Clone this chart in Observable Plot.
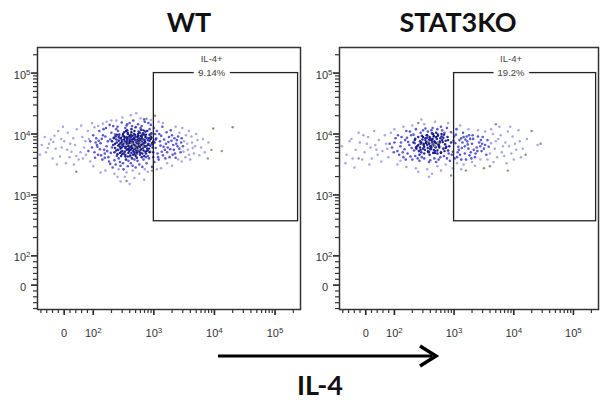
<!DOCTYPE html>
<html><head><meta charset="utf-8">
<script src="https://cdn.jsdelivr.net/npm/d3@7"></script>
<script src="https://cdn.jsdelivr.net/npm/@observablehq/plot@0.6"></script>
<style>
body{margin:0;background:#fff;}
#wrap{position:relative;width:605px;height:402px;overflow:hidden;background:#fff;}
#wrap svg{position:absolute;top:0;}
</style></head><body><div id="wrap"></div>
<script>
// ---- data (positions in log10 display units of the biexponential axes) ----
const panelTitles = ["WT", "STAT3KO"];
const gateNames = ["IL-4+", "IL-4+"];
const gatePercents = ["9.14%", "19.2%"];
const gateX = [1000, 240000];   // gate x range (raw values)
const gateY = [370, 100000];    // gate y range (raw values)
const gateLabelX = 9000;
const axisLabel = "IL-4";

const majorVals = [0, 100, 1e3, 1e4, 1e5];
const majorLabels = ["0", "10^2", "10^3", "10^4", "10^5"];
const minorVals = [-80, -60, -40, -20, 20, 40, 60, 80,
  200, 300, 400, 500, 600, 700, 800, 900,
  2000, 3000, 4000, 5000, 6000, 7000, 8000, 9000,
  20000, 30000, 40000, 50000, 60000, 70000, 80000, 90000, 200000];

const wtDark = [[2.62,3.88],[2.71,3.79],[2.55,3.95],[2.83,3.91],[2.48,3.72],[2.77,4.02],[2.91,3.84],[2.66,3.66],[2.39,3.86],[2.58,3.81],
[2.86,3.71],[2.74,3.97],[2.51,4.03],[2.69,3.90],[2.95,3.96],[2.44,3.79],[2.80,3.62],[2.63,4.08],[2.35,3.70],[2.89,4.05],
[2.57,3.63],[2.73,3.84],[2.98,3.78],[2.42,3.95],[2.67,3.75],[2.84,3.99],[2.52,3.88],[2.78,3.69],[2.61,3.98],[2.93,3.89],
[2.46,3.64],[2.70,4.11],[2.87,3.80],[2.33,3.82],[2.59,3.72],[2.76,3.93],[3.01,3.86],[2.49,3.97],[2.65,3.83],[2.82,3.77],
[2.54,3.58],[2.72,3.61],[2.38,3.91],[2.90,3.73],[2.60,3.92],[2.79,4.07],[2.45,3.85],[2.68,3.70],[2.96,4.01],[2.53,3.77],
[2.85,3.87],[2.64,3.60],[2.41,3.74],[2.75,3.80],[2.88,3.94],[2.56,4.06],[2.71,3.73],[2.99,3.70],[2.47,3.90],[2.81,3.83],
[2.36,3.77],[2.62,3.95],[2.77,3.66],[2.92,3.93],[2.50,3.68],[2.67,4.00],[2.84,3.64],[2.58,3.86],[2.73,3.89],[3.03,3.91],
[2.43,3.99],[2.69,3.81],[2.86,4.04],[2.55,3.74],[2.80,3.96],[2.63,3.69],[2.94,3.81],[2.40,3.67],[2.76,3.86],[2.52,3.94],
[2.89,3.76],[2.66,3.92],[2.31,3.88],[2.74,3.74],[2.97,3.85],[2.57,4.00],[2.83,3.85],[2.48,3.82],[2.70,3.96],[2.61,3.78],
[2.87,3.68],[2.44,3.93],[2.78,3.91],[2.53,3.66],[2.93,3.99],[2.65,3.87],[2.37,3.96],[2.82,4.01],[2.59,3.76],[2.72,3.68],
[2.90,3.90],[2.50,3.80],[2.68,3.94],[2.85,3.79],[2.56,3.90],[2.79,3.75],[2.64,3.84],[2.46,3.71],[2.75,4.04],[2.98,3.83]];

const wtCore = [[2.60,3.85],[2.67,3.93],[2.54,3.79],[2.73,3.77],[2.80,3.88],[2.47,3.87],[2.58,3.69],[2.69,3.99],[2.86,3.95],[2.41,3.81],
[2.76,3.71],[2.63,3.80],[2.51,3.91],[2.92,3.76],[2.70,3.64],[2.57,4.02],[2.83,4.06],[2.44,3.69],[2.66,3.87],[2.79,3.82],
[2.38,3.73],[2.55,3.84],[2.73,3.95],[2.88,3.72],[2.62,3.74],[2.49,4.00],[2.81,3.68],[2.68,4.05],[2.95,3.92],[2.52,3.71],
[2.64,3.91],[2.77,3.79],[2.45,3.76],[2.71,3.86],[2.59,3.96],[2.85,3.90],[2.34,3.94],[2.66,3.72],[2.74,4.00],[2.50,3.84],
[2.90,3.82],[2.61,3.65],[2.78,3.97],[2.42,3.89],[2.69,3.76],[2.56,3.93],[2.83,3.73],[2.63,4.03],[2.47,3.78],[2.75,3.84],
[2.99,3.88],[2.53,3.63],[2.72,3.70],[2.60,3.89],[2.87,3.99],[2.39,3.99],[2.67,3.83],[2.80,3.93],[2.48,3.67],[2.58,3.80],
[2.93,3.70],[2.65,3.97],[2.43,3.83],[2.76,3.89],[2.54,4.05],[2.70,3.79],[2.84,3.81],[2.57,3.75],[2.68,3.67],[2.96,3.94],
[2.36,3.84],[2.62,3.99],[2.78,3.74],[2.51,3.96],[2.73,3.91],[2.86,3.86],[2.46,3.94],[2.64,3.77],[2.81,3.99],[2.55,3.87]];

const wtMid = [[2.12,3.85],[2.25,3.62],[2.30,4.02],[2.18,3.74],[2.05,3.93],[2.40,4.12],[2.28,3.51],[3.10,3.88],[3.18,3.74],[3.05,4.05],
[3.25,3.95],[3.32,3.82],[3.15,3.65],[2.95,4.15],[2.60,4.18],[2.45,3.48],[2.70,3.45],[2.88,3.52],[2.20,3.96],[2.02,3.70],
[1.95,3.88],[2.35,3.57],[2.55,4.14],[2.80,4.13],[3.08,3.58],[3.22,3.70],[3.38,3.90],[3.42,3.76],[3.28,4.06],[2.15,3.58],
[2.10,4.05],[2.38,4.08],[2.62,3.52],[2.92,3.60],[3.00,4.10],[3.12,3.97],[2.22,3.80],[2.08,3.66],[1.98,3.78],[2.32,3.45],
[2.50,3.42],[2.76,3.50],[2.97,3.46],[3.20,3.84],[3.35,3.68],[3.45,3.86],[2.27,4.15],[2.66,4.22],[2.85,4.20],[3.03,3.77],
[2.14,3.92],[2.42,3.60],[2.58,3.56],[3.14,4.12],[3.30,3.98],[2.00,3.98],[2.19,3.68],[2.36,3.99],[2.90,3.64],[3.06,3.68],
[3.26,3.62],[3.40,3.96],[2.24,3.88],[2.06,3.82],[2.47,4.19],[2.74,4.16],[2.93,4.08],[3.17,3.91],[3.33,3.74],[3.48,3.80],
[2.11,3.75],[2.29,3.69],[2.44,3.54],[2.65,3.48],[2.83,3.58],[3.01,3.54],[3.23,3.78],[3.37,3.84],[2.17,4.08],[2.34,3.93],
[2.53,4.10],[2.78,4.10],[3.09,4.00],[3.19,3.60],[2.03,3.61],[2.26,3.55],[2.39,3.64],[2.61,3.63],[2.94,3.71],[3.11,3.81],
[3.29,3.89],[3.44,3.70],[2.09,3.89],[2.21,4.10],[2.49,3.52],[2.68,3.58],[2.87,3.62],[3.04,3.93],[3.21,4.03],[3.36,3.61],
[1.92,3.72],[2.13,3.65],[2.31,3.78],[2.57,3.47],[2.81,3.46],[3.07,3.62],[3.24,3.87],[3.39,3.80],[2.16,3.98],[2.41,4.05],
[2.64,4.13],[2.91,4.18],[3.13,3.71],[3.31,3.66],[2.04,3.86],[2.23,3.72],[2.37,3.50],[2.73,3.56],[2.99,3.62],[3.16,3.79],
[3.46,3.93],[2.19,3.61],[2.33,4.13],[2.56,4.16],[2.84,4.24],[3.02,4.00],[3.27,3.75],[2.07,3.79],[2.28,3.91],[3.34,3.93]];

const wtLight = [[1.15,3.82],[1.22,3.70],[1.30,3.91],[1.38,3.76],[1.45,3.63],[1.52,3.88],[1.58,4.02],[1.64,3.71],[1.70,3.82],[1.76,3.58],
[1.82,3.95],[1.88,3.66],[1.20,3.95],[1.33,3.60],[1.42,4.05],[1.55,3.52],[1.67,3.93],[1.73,4.08],[1.85,3.78],[1.91,4.05],
[1.27,3.84],[1.48,3.78],[1.61,3.62],[1.79,3.70],[1.95,3.55],[1.12,3.66],[1.36,3.97],[1.57,3.74],[1.68,3.50],[1.87,3.88],
[2.00,3.47],[2.08,4.13],[2.20,3.40],[2.35,3.35],[2.52,3.30],[2.68,3.28],[2.45,3.22],[2.60,3.18],[2.76,3.35],[2.90,3.38],
[2.30,4.22],[2.48,4.27],[2.62,4.31],[2.78,4.26],[2.95,4.23],[2.71,4.34],[2.40,3.30],[2.84,3.25],[2.55,3.37],[3.05,3.42],
[3.50,3.88],[3.56,3.74],[3.62,3.96],[3.68,3.80],[3.52,3.62],[3.58,4.05],[3.66,3.68],[3.72,3.90],[3.47,4.10],[3.55,3.84],
[3.78,3.78],[3.84,3.70],[3.90,3.86],[3.46,3.55],[3.60,3.58],[3.75,3.65],[3.53,3.98],[3.63,3.86],[3.70,4.00],[3.42,4.02],
[3.15,4.18],[3.22,3.52],[3.30,3.48],[3.36,4.12],[3.12,3.44],[1.50,4.12],[1.40,3.50],[1.98,4.18],[2.12,3.37],[1.80,4.14],
[1.62,3.84],[1.72,3.64],[1.93,3.92],[1.25,3.77],[1.47,3.92],[1.83,3.60],[2.02,4.11],[2.16,4.17],[3.40,3.58],[3.49,3.71],
[3.58,3.66],[3.64,3.77],[3.81,3.92],[2.65,3.40],[2.42,3.42],[2.85,3.42],[2.38,4.22],[3.08,4.20],[2.22,4.20],[1.34,3.87]];

const wtGray = [[2.72,3.82],[2.78,3.86],[2.68,3.78],[2.82,3.80],[2.75,3.75],[2.64,3.84],[4.30,4.11],[3.98,4.09],[3.89,3.60],
[4.12,3.72],[3.95,3.74],[2.97,3.40],[2.55,3.23],[1.72,3.38],[2.88,4.25],[3.02,4.30]];

const koDark = [[2.55,3.82],[2.62,3.90],[2.48,3.76],[2.70,3.85],[2.58,3.71],[2.66,3.96],[2.43,3.88],[2.75,3.78],[2.52,3.93],[2.80,3.90],
[2.60,3.80],[2.38,3.80],[2.68,3.72],[2.46,3.97],[2.73,3.99],[2.57,3.87],[2.85,3.83],[2.41,3.72],[2.64,3.84],[2.50,3.68],
[2.78,3.70],[2.35,3.92],[2.61,3.75],[2.89,3.95],[2.54,3.98],[2.71,3.92],[2.44,3.84],[2.82,3.76],[2.59,3.66],[2.67,3.88],
[2.49,3.82],[2.76,3.86],[2.32,3.86],[2.63,4.01],[2.92,3.80],[2.56,3.77],[2.72,3.68],[2.40,3.95],[2.86,3.89],[2.53,3.87],
[2.69,3.79],[2.45,3.70],[2.79,3.96],[2.60,3.93],[2.95,3.86],[2.51,3.74],[2.74,3.82],[2.37,3.76],[2.65,3.69],[2.83,3.99],
[2.58,3.90],[2.47,3.91],[2.90,3.73],[2.62,3.78],[2.77,3.93],[2.42,3.66],[2.70,4.02],[2.55,3.94],[2.87,3.79],[2.66,3.81]];

const koCore = [[2.58,3.84],[2.64,3.92],[2.50,3.79],[2.69,3.78],[2.76,3.88],[2.45,3.86],[2.56,3.72],[2.66,3.97],[2.82,3.94],[2.40,3.82],
[2.72,3.73],[2.61,3.80],[2.52,3.90],[2.86,3.77],[2.68,3.69],[2.55,3.98],[2.79,4.00],[2.44,3.74],[2.63,3.87],[2.74,3.83],
[2.36,3.78],[2.53,3.85],[2.70,3.95],[2.84,3.72],[2.60,3.76],[2.48,3.95],[2.78,3.69],[2.65,4.00],[2.90,3.90],[2.57,3.70],
[2.62,3.90],[2.75,3.80],[2.43,3.78],[2.68,3.86],[2.59,3.95],[2.81,3.87],[2.34,3.90],[2.66,3.74],[2.73,3.97],[2.49,3.84]];

const koMid = [[2.10,3.80],[2.18,3.90],[2.22,3.68],[2.28,3.98],[2.05,3.72],[2.15,3.62],[2.30,3.58],[2.20,4.05],[2.33,3.73],[2.00,3.86],
[3.02,3.85],[3.08,3.74],[3.12,3.93],[3.18,3.80],[3.05,3.62],[3.22,3.88],[3.28,3.70],[3.15,4.02],[3.32,3.92],[3.38,3.78],
[2.42,3.56],[2.58,3.54],[2.74,3.58],[2.88,3.60],[2.96,3.66],[2.48,4.06],[2.64,4.10],[2.80,4.06],[2.95,4.03],[2.36,4.08],
[3.00,3.96],[3.10,3.66],[3.25,3.98],[3.42,3.86],[3.46,3.72],[3.35,3.62],[3.20,3.58],[3.52,3.82],[3.48,3.95],[3.56,3.90],
[2.12,3.95],[2.25,3.82],[2.08,3.66],[1.96,3.78],[2.02,3.93],[2.27,3.63],[2.17,3.75],[2.35,3.64],[2.23,3.87],[1.92,3.84],
[2.50,3.60],[2.67,3.60],[2.83,3.64],[2.98,3.71],[2.56,4.04],[2.72,4.08],[2.88,4.10],[2.44,4.02],[3.04,4.08],[2.32,3.99],
[3.07,3.79],[3.14,3.86],[3.24,3.76],[3.30,3.84],[3.40,3.96],[3.36,3.68],[3.44,3.80],[3.18,3.68],[3.27,3.92],[3.12,3.58],
[2.14,3.70],[2.06,3.98],[2.21,3.94],[2.29,3.77],[2.39,3.60],[2.60,3.57],[2.77,3.62],[2.93,3.56],[2.52,4.09],[2.84,4.02],
[3.01,3.60],[3.09,3.90],[3.21,3.96],[3.33,3.74],[3.50,3.76],[3.54,3.66],[2.99,3.89],[3.16,3.95],[3.26,3.65],[3.45,3.90],
[2.19,3.58],[2.11,3.86],[2.26,4.04],[1.99,3.70],[2.34,3.85],[2.46,3.62],[2.70,3.54],[2.91,3.68],[2.62,4.06],[2.78,4.12],
[3.06,3.70],[3.13,3.77],[3.23,3.83],[3.31,3.98],[3.39,3.72],[3.47,3.84],[3.58,3.79],[3.03,3.99],[3.19,3.91],[3.29,3.60]];

const koLight = [[1.12,3.80],[1.20,3.66],[1.28,3.92],[1.35,3.74],[1.42,3.86],[1.50,3.70],[1.56,3.95],[1.62,3.60],[1.68,3.82],[1.74,3.90],
[1.80,3.72],[1.86,3.84],[1.18,3.52],[1.33,3.45],[1.46,3.58],[1.60,3.78],[1.72,3.66],[1.84,3.98],[1.90,3.62],[1.25,3.88],
[1.40,4.02],[1.54,3.84],[1.66,4.05],[1.78,3.55],[1.94,4.02],[2.05,3.50],[2.20,3.46],[2.36,3.44],[2.55,3.42],[2.72,3.47],
[2.40,3.38],[2.63,3.35],[2.86,3.50],[2.30,4.14],[2.50,4.16],[2.68,4.20],[2.90,4.18],[2.45,4.24],[3.10,4.14],[2.15,4.12],
[3.62,3.85],[3.68,3.76],[3.74,3.92],[3.80,3.70],[3.86,3.86],[3.92,3.80],[3.98,3.96],[4.04,3.74],[4.10,3.88],[3.65,4.00],
[3.72,3.62],[3.78,3.98],[3.84,3.64],[3.90,4.04],[3.96,3.68],[4.02,3.84],[4.08,4.06],[3.60,3.68],[3.70,3.88],[3.82,3.80],
[3.05,3.52],[3.16,3.50],[3.30,3.54],[3.44,3.58],[3.56,3.58],[3.40,4.06],[3.52,4.04],[3.24,4.08],[3.62,4.08],[3.76,4.12],
[2.98,3.44],[3.12,3.42],[3.35,3.48],[4.00,3.58],[4.15,3.76],[4.22,3.92],[4.40,3.82],[1.30,3.60],[1.48,3.98],[1.58,3.50],
[1.70,3.74],[1.88,3.76],[2.00,4.08],[2.10,3.56],[2.58,3.30],[2.78,3.40],[3.88,3.52],[3.66,3.54],[4.12,3.62],[3.94,4.12]];

const koGray = [[2.62,3.84],[2.68,3.80],[2.57,3.88],[2.73,3.86],[3.60,3.47],[3.90,3.40],[4.20,3.66],[4.45,3.84],
[3.50,3.44],[1.40,3.60],[2.95,3.32],[3.20,3.40],[2.40,4.18],[3.70,4.16],[4.30,4.05]];

// ---- biexponential-like display transform ----
const disp = v => v >= 100 ? Math.log10(v) : 1.52 + 0.0048 * v;
const majorDisp = majorVals.map(disp);
const minorDisp = minorVals.map(disp);
const labelOf = d => { const i = majorDisp.findIndex(v => Math.abs(v - d) < 1e-9); return i < 0 ? "" : majorLabels[i]; };

const FONT = "'Liberation Sans', Arial, sans-serif";
const px = d => d[0], py = d => d[1];
const XD = [1.08, 5.42], YD = [1.12, 5.42];
const H = 345, MT = 47, MB = 36;

function panel(k, sets, opts) {
  const fw = opts.width - opts.ml - opts.mr, fh = H - MT - MB;
  const tx = 4 * (XD[1] - XD[0]) / fw, ty = 4 * (YD[1] - YD[0]) / fh; // minor tick length in data units
  const gate = [{x1: disp(gateX[0]), x2: disp(gateX[1]), y1: disp(gateY[0]), y2: disp(gateY[1])}];
  const lbl = [{x: disp(gateLabelX), y: disp(gateY[1]), name: gateNames[k], pct: gatePercents[k]}];
  const svg = Plot.plot({
    width: opts.width, height: H,
    marginLeft: opts.ml, marginRight: opts.mr, marginTop: MT, marginBottom: MB,
    x: {domain: XD},
    y: {domain: YD},
    style: {background: "none", fontFamily: FONT, overflow: "visible"},
    marks: [
      Plot.ruleX(minorDisp, {x: d => d, y1: YD[0], y2: YD[0] - ty, stroke: "#333", strokeWidth: 1.2}),
      Plot.ruleY(minorDisp, {y: d => d, x1: XD[0], x2: XD[0] - tx, stroke: "#333", strokeWidth: 1.2}),
      Plot.axisX(majorDisp, {anchor: "bottom", tickSize: 6, tickPadding: 14, tickFormat: labelOf, label: null, color: "#222", strokeWidth: 1.6, fontSize: 11}),
      Plot.axisY(majorDisp, {anchor: "left", tickSize: 6, tickPadding: 1, tickFormat: labelOf, label: null, color: "#222", strokeWidth: 1.6, fontSize: 11}),
      Plot.dot(sets.light, {x: px, y: py, r: 1.25, fill: "#a6a6ea", stroke: null}),
      Plot.dot(sets.mid, {x: px, y: py, r: 1.3, fill: "#5a5ad2", stroke: null}),
      Plot.dot(sets.dark, {x: px, y: py, r: 1.3, fill: "#2a2aa8", stroke: null}),
      Plot.dot(sets.core, {x: px, y: py, r: 1.2, fill: "#1c1c78", stroke: null}),
      Plot.dot(sets.gray, {x: px, y: py, r: 1.2, fill: "#86947e", stroke: null}),
      Plot.rect(gate, {x1: "x1", x2: "x2", y1: "y1", y2: "y2", fill: "none", stroke: "#222", strokeWidth: 1.3}),
      Plot.text(lbl, {x: "x", y: "y", text: "pct", fontSize: 9.5, fill: "#444", stroke: "white", strokeWidth: 10}),
      Plot.text(lbl, {x: "x", y: "y", text: "name", fontSize: 9.5, fill: "#444", dy: -14}),
      Plot.frame({stroke: "#333", strokeWidth: 1.5})
    ]
  });
  svg.style.left = opts.left + "px";
  const ns = "http://www.w3.org/2000/svg";
  svg.querySelectorAll('g[aria-label="y-axis tick label"]').forEach(g => {
    g.setAttribute("transform", ((g.getAttribute("transform") || "") + " translate(0,2)").trim());
  });
  svg.querySelectorAll('g[aria-label="x-axis tick label"] text, g[aria-label="y-axis tick label"] text').forEach(t => {
    t.setAttribute("fill", "#333");
    const s = t.textContent;
    const isY = t.parentNode.getAttribute("aria-label").startsWith("y");
    const m = /^10\^(\d)$/.exec(s);
    if (m) {
      t.textContent = "10";
      const ts = document.createElementNS(ns, "tspan");
      ts.setAttribute("dy", "-0.5em"); ts.setAttribute("font-size", "0.72em");
      ts.textContent = m[1]; t.appendChild(ts);
    } else if (s === "0" && isY) {
      const ts = document.createElementNS(ns, "tspan");
      ts.setAttribute("font-size", "0.72em"); ts.setAttribute("fill-opacity", "0");
      ts.textContent = "2"; t.appendChild(ts);
    }
  });
  return svg;
}

const wrap = document.getElementById("wrap");
wrap.appendChild(panel(0, {core: wtCore, dark: wtDark, mid: wtMid, light: wtLight, gray: wtGray}, {width: 305, ml: 37, mr: 5, left: 0}));
wrap.appendChild(panel(1, {core: koCore, dark: koDark, mid: koMid, light: koLight, gray: koGray}, {width: 305, ml: 39, mr: 7, left: 300}));

// ---- titles, arrow and axis title ----
const ov = d3.select(wrap).append("svg").attr("width", 605).attr("height", 402).style("left", "0px");
ov.selectAll("text.t").data(panelTitles).join("text").attr("class", "t")
  .attr("x", (d, i) => [189, 458][i]).attr("y", 32).attr("text-anchor", "middle")
  .attr("font-family", "Lato, 'Open Sans', sans-serif").attr("font-weight", "bold").attr("font-size", 27).attr("fill", "#111").text(d => d);
ov.append("line").attr("x1", 218).attr("x2", 432).attr("y1", 356).attr("y2", 356).attr("stroke", "#000").attr("stroke-width", 3);
ov.append("path").attr("d", "M420,346 L436,356 L420,366").attr("fill", "none").attr("stroke", "#000").attr("stroke-width", 3.5);
ov.append("text").attr("x", 320).attr("y", 395).attr("text-anchor", "middle")
  .attr("font-family", "Lato, 'Open Sans', sans-serif").attr("font-weight", "bold").attr("font-size", 27).attr("fill", "#111").text(axisLabel);
</script></body></html>
